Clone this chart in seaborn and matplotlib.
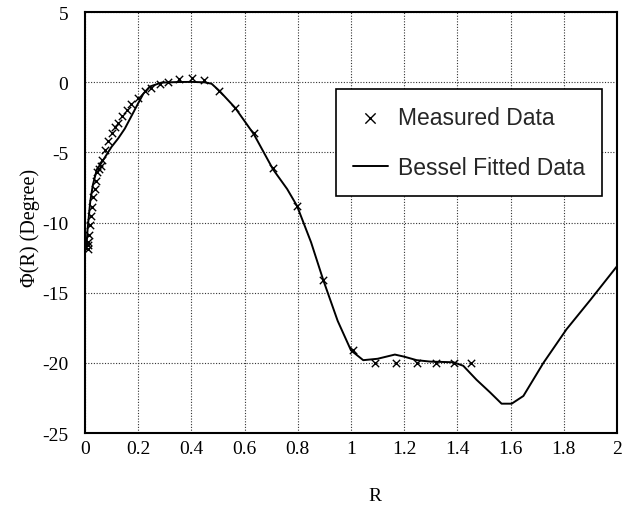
import numpy as np
import pandas as pd
import matplotlib
matplotlib.use("Agg")
import matplotlib.pyplot as plt
import seaborn as sns

# measured phase points
meas_r = [0.012, 0.012, 0.013, 0.015, 0.019, 0.023, 0.028, 0.031, 0.038, 0.041,
          0.046, 0.053, 0.059, 0.066, 0.075, 0.087, 0.100, 0.113, 0.125, 0.138,
          0.157, 0.175, 0.200, 0.225, 0.250, 0.282, 0.313, 0.354, 0.401, 0.447,
          0.505, 0.564, 0.635, 0.707, 0.797, 0.896, 1.009, 1.090, 1.170, 1.247,
          1.320, 1.387, 1.452]
meas_phi = [-11.9, -11.6, -11.4, -10.9, -10.2, -9.5, -8.9, -8.2, -7.6, -7.0,
            -6.4, -6.2, -5.95, -5.5, -4.8, -4.2, -3.6, -3.2, -2.9, -2.4,
            -2.0, -1.55, -1.1, -0.6, -0.37, -0.13, 0.03, 0.25, 0.30, 0.18,
            -0.6, -1.8, -3.6, -6.1, -8.8, -14.1, -19.1, -20.0, -20.0, -20.0,
            -20.0, -20.0, -20.0]

# bessel fitted curve
fit_r = [0.005, 0.010, 0.020, 0.030, 0.045, 0.060, 0.080, 0.100, 0.125, 0.150,
         0.175, 0.200, 0.220, 0.244, 0.288, 0.350, 0.400, 0.450, 0.476, 0.505,
         0.564, 0.635, 0.707, 0.760, 0.797, 0.850, 0.896, 0.950, 1.000, 1.046,
         1.100, 1.165, 1.200, 1.247, 1.297, 1.385, 1.422, 1.472, 1.523, 1.566,
         1.604, 1.648, 1.723, 1.810, 1.900, 2.000]
fit_phi = [-11.9, -10.5, -8.5, -7.3, -6.2, -5.8, -5.2, -4.6, -4.0, -3.3,
           -2.4, -1.5, -0.8, -0.3, -0.02, 0.02, 0.03, 0.0, -0.1, -0.6,
           -1.8, -3.7, -6.2, -7.6, -8.8, -11.4, -14.1, -17.0, -19.1, -19.8,
           -19.7, -19.4, -19.55, -19.8, -19.9, -19.95, -20.2, -21.2, -22.1, -22.9,
           -22.9, -22.35, -20.0, -17.6, -15.5, -13.1]

x_ticks = [0, 0.2, 0.4, 0.6, 0.8, 1, 1.2, 1.4, 1.6, 1.8, 2]
x_labels = ["0", "0.2", "0.4", "0.6", "0.8", "1", "1.2", "1.4", "1.6", "1.8", "2"]
y_ticks = [-25, -20, -15, -10, -5, 0, 5]

sns.set_theme(style="white")
plt.rcParams["font.family"] = ["Liberation Serif", "DejaVu Serif"]
plt.rcParams["axes.unicode_minus"] = False

meas = pd.DataFrame({"R": meas_r, "phi": meas_phi})
fit = pd.DataFrame({"R": fit_r, "phi": fit_phi})

fig = plt.figure(figsize=(6.29, 5.06), dpi=100)
ax = fig.add_axes([0.135, 0.142, 0.846, 0.832])

sns.lineplot(data=fit, x="R", y="phi", ax=ax, color="black", linewidth=1.4,
             sort=False, estimator=None, label="Bessel Fitted Data")
sns.scatterplot(data=meas, x="R", y="phi", ax=ax, marker="x", color="black",
                s=28, linewidth=1.0, label="Measured Data", zorder=3)

ax.set_xlim(0, 2)
ax.set_ylim(-25, 5)
ax.set_xticks(x_ticks)
ax.set_xticklabels(x_labels)
ax.set_yticks(y_ticks)
ax.tick_params(axis="both", length=0, labelsize=14, colors="black")
ax.tick_params(axis="x", pad=5)
ax.tick_params(axis="y", pad=12)
ax.grid(True, linestyle=(0, (1, 1.5)), color="#333333", linewidth=0.8)

for sp in ax.spines.values():
    sp.set_color("black")
    sp.set_linewidth(1.5)

ax.set_xlabel("R", fontsize=14, color="black")
ax.xaxis.set_label_coords(0.545, -0.128)
ax.set_ylabel("Φ(R) (Degree)", fontsize=14.5, color="black")
ax.yaxis.set_label_coords(-0.085, 0.49)

handles, labels = ax.get_legend_handles_labels()
order = [labels.index("Measured Data"), labels.index("Bessel Fitted Data")]
leg = ax.legend([handles[i] for i in order], [labels[i] for i in order],
                loc="upper left", bbox_to_anchor=(0.472, 0.817),
                prop={"family": "Liberation Sans", "size": 16.5},
                frameon=True, fancybox=False, edgecolor="black",
                framealpha=1, borderpad=0.75, labelspacing=1.15,
                handlelength=1.5, handletextpad=0.45, borderaxespad=0,
                markerscale=1.4)
leg.get_frame().set_linewidth(1.2)

fig.savefig("out.png", dpi=100, facecolor="white")
